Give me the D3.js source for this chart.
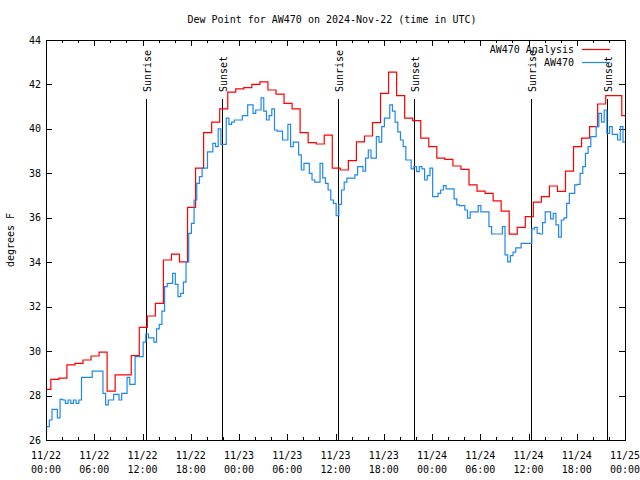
<!DOCTYPE html>
<html><head><meta charset="utf-8">
<script src="https://cdn.jsdelivr.net/npm/d3@7"></script>
<style>
body{margin:0;background:#fff;}
text{font-family:"DejaVu Sans Mono","Liberation Mono",monospace;font-size:10px;fill:#000;}
</style></head>
<body><svg id="c" width="640" height="480"></svg>
<script>
// ---- data ----
const titleText = "Dew Point for AW470 on 2024-Nov-22 (time in UTC)";
const yLabel = "degrees F";
const seriesNames = ["AW470 Analysis", "AW470"];
const yTicks = [26, 28, 30, 32, 34, 36, 38, 40, 42, 44];
const xTickDates = ["11/22","11/22","11/22","11/22","11/23","11/23","11/23","11/23","11/24","11/24","11/24","11/24","11/25"];
const xTickTimes = ["00:00","06:00","12:00","18:00","00:00","06:00","12:00","18:00","00:00","06:00","12:00","18:00","00:00"];
// hourly analysis values (hour 0..72)
const analysis = [28.28,28.73,28.78,29.38,29.45,29.6,29.78,29.95,28.2,28.93,28.93,29.8,
  31.07,31.58,32.15,34.1,34.36,34.02,36.47,38.23,39.83,40.3,40.9,41.65,
  41.8,41.86,42.0,42.12,41.75,41.56,41.15,40.9,39.83,39.38,39.32,39.72,
  38.23,38.15,38.57,39.42,39.68,40.28,41.6,42.55,41.5,40.48,40.37,39.58,
  39.2,38.68,38.63,38.33,38.18,37.48,37.2,37.1,36.76,36.3,35.26,35.57,
  36.05,36.7,36.95,37.43,37.19,38.1,39.2,39.58,40.1,41.12,41.5,41.5,40.6];
// observations every 20 minutes
const observed = [
  26.6,26.9,27.38, 27.38,27.0,27.83, 27.8,27.65,27.8, 27.65,27.8,27.65,
  27.8,28.82,28.82, 28.82,28.82,29.1, 29.1,29.1,29.1, 28.1,27.58,27.8,
  27.8,28.05,28.05, 27.8,28.1,28.1, 28.82,28.5,28.5, 29.75,29.75,29.75,
  30.4,30.77,30.6, 30.6,30.4,31.0, 31.2,31.8,32.9, 33.05,33.05,33.5,
  33.0,32.45,32.6, 33.1,34.02,35.3, 35.75,36.8,37.55, 37.85,38.23,38.23,
  38.97,38.97,39.35, 39.2,40.0,39.3, 39.3,40.48,40.2, 40.3,40.4,40.4,
  40.4,40.6,40.6, 41.08,41.08,40.7, 40.85,40.85,41.4, 40.8,40.4,40.6,
  40.9,39.95,39.9, 39.9,39.5,39.5, 40.2,39.2,39.4, 39.4,38.83,38.15,
  38.45,38.45,38.0, 37.7,37.6,37.6, 38.45,37.8,37.55, 37.25,36.8,36.65,
  36.1,36.6,37.25, 37.6,37.78,37.78, 37.78,37.93,38.3, 38.3,38.1,38.68,
  39.05,38.68,38.68, 39.65,39.4,40.1, 40.48,40.48,41.08, 40.8,40.3,39.87,
  39.5,39.2,38.6, 38.6,38.2,38.3, 38.08,38.3,38.2, 37.7,37.9,38.23,
  36.95,36.95,37.1, 37.25,37.45,37.3, 37.3,37.3,36.85, 36.58,36.55,36.55,
  36.35,35.98,36.27, 36.27,36.27,36.55, 36.27,36.27,36.27, 35.6,35.27,35.27,
  35.27,35.27,35.6, 34.33,34.02,34.3, 34.45,34.65,34.65, 34.85,34.85,34.85,
  34.85,35.5,35.57, 35.3,35.27,35.78, 36.27,36.27,35.95, 36.2,35.68,35.13,
  35.9,36.0,36.65, 37.1,37.1,37.48, 37.5,38.0,38.3, 38.9,39.2,39.65,
  39.65,40.1,40.7, 40.3,40.85,39.8, 40.1,39.75,39.75, 39.5,40.1,39.4];
const sunLabels = ["Sunrise","Sunset","Sunrise","Sunset","Sunrise","Sunset"];
const sunTimes = ["2024-11-22T12:28Z","2024-11-22T21:55Z","2024-11-23T12:16Z","2024-11-23T21:48Z","2024-11-24T12:15Z","2024-11-24T21:42Z"];

// ---- layout ----
const L = 46, R = 625, T = 40, B = 440;
const HOUR = 3600e3;
const start = Date.UTC(2024, 10, 22);
const svg = d3.select("#c");
const x = d3.scaleUtc().domain([new Date(start), new Date(start + 72 * HOUR)]).range([L, R]);
const y = d3.scaleLinear().domain([26, 44]).range([B, T]);

const redPts = analysis.map((v, k) => ({t: new Date(start + Math.max(0.08, k - 0.4) * HOUR), v}));
redPts.push({t: new Date(start + 72 * HOUR), v: analysis[analysis.length - 1]});
const bluePts = observed.map((v, i) => ({t: new Date(start + (0.08 + i / 3) * HOUR), v}));
bluePts.push({t: new Date(start + 72 * HOUR), v: observed[observed.length - 1]});

// frame
svg.append("rect").attr("x", L + 0.5).attr("y", T + 0.5).attr("width", R - L).attr("height", B - T)
  .attr("fill", "none").attr("stroke", "#000").attr("stroke-width", 1).attr("shape-rendering", "crispEdges");

// ticks
const g = svg.append("g").attr("stroke", "#000").attr("shape-rendering", "crispEdges");
for (let h = 0; h <= 72; h += 2) {
  const xx = Math.round(x(new Date(start + h * HOUR))) + 0.5;
  const len = h % 6 === 0 ? 6 : 3;
  g.append("line").attr("x1", xx).attr("x2", xx).attr("y1", B).attr("y2", B - len);
  g.append("line").attr("x1", xx).attr("x2", xx).attr("y1", T).attr("y2", T + len);
}
yTicks.forEach(v => {
  const yy = Math.round(y(v)) + 0.5;
  g.append("line").attr("x1", L).attr("x2", L + 6).attr("y1", yy).attr("y2", yy);
  g.append("line").attr("x1", R).attr("x2", R - 6).attr("y1", yy).attr("y2", yy);
  svg.append("text").attr("x", 41).attr("y", y(v)).attr("dy", "0.35em").attr("text-anchor", "end").text(v);
});
xTickDates.forEach((d, i) => {
  const xx = x(new Date(start + i * 6 * HOUR));
  svg.append("text").attr("x", xx).attr("y", 459).attr("text-anchor", "middle").text(d);
  svg.append("text").attr("x", xx).attr("y", 473).attr("text-anchor", "middle").text(xTickTimes[i]);
});

// sunrise/sunset
sunTimes.forEach((s, i) => {
  const xx = Math.round(x(new Date(s))) + 0.5;
  svg.append("line").attr("x1", xx).attr("x2", xx).attr("y1", y(41.35)).attr("y2", B)
    .attr("stroke", "#000").attr("stroke-width", 1).attr("shape-rendering", "crispEdges");
  svg.append("text").attr("transform", `translate(${xx + 1},92) rotate(-90)`)
    .attr("text-anchor", "start").attr("dy", "0.35em").text(sunLabels[i]);
});

// series
const line = d3.line().x(d => x(d.t)).y(d => y(d.v)).curve(d3.curveStepAfter);
svg.append("path").datum(redPts).attr("d", line).attr("fill", "none").attr("stroke", "#ff0000").attr("stroke-width", 1.2);
svg.append("path").datum(bluePts).attr("d", line).attr("fill", "none").attr("stroke", "#1e88f0").attr("stroke-width", 1.2);

// title, y label
svg.append("text").attr("x", 332).attr("y", 23).attr("text-anchor", "middle").text(titleText);
svg.append("text").attr("transform", "translate(10,240) rotate(-90)").attr("text-anchor", "middle").attr("dy", "0.35em").text(yLabel);

// legend
const legColors = ["#ff0000", "#1e88f0"];
seriesNames.forEach((n, i) => {
  const ly = 49.5 + i * 13;
  svg.append("text").attr("x", 574).attr("y", ly).attr("dy", "0.35em").attr("text-anchor", "end").text(n);
  svg.append("line").attr("x1", 582).attr("x2", 610).attr("y1", ly).attr("y2", ly)
    .attr("stroke", legColors[i]).attr("stroke-width", 1.2);
});
</script></body></html>
